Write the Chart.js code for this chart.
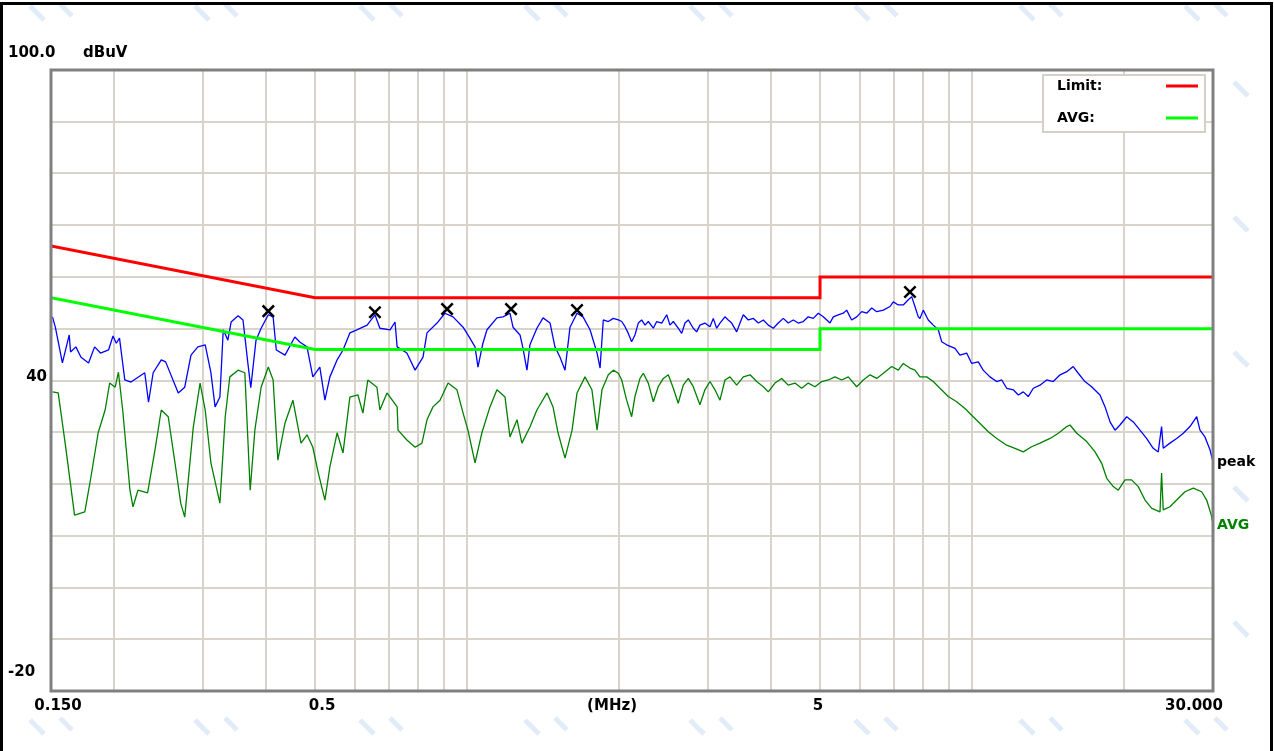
<!DOCTYPE html>
<html>
<head>
<meta charset="utf-8">
<title>Conducted emission 0.15 - 30 MHz</title>
<script src="https://cdn.jsdelivr.net/npm/chart.js@4.4.1/dist/chart.umd.min.js"></script>
<style>
  html, body { margin: 0; padding: 0; background: #fff; overflow: hidden; }
  canvas { display: block; }
</style>
</head>
<body>
<canvas id="emiChart" width="1274" height="751"></canvas>
<script>
// vertical grid lines (MHz)
const GRID_FREQ = [0.15, 0.2, 0.3, 0.4, 0.5, 0.6, 0.7, 0.8, 0.9, 1, 2, 3, 4, 5, 6, 7, 8, 9, 10, 20, 30];

// axis texts
const X_LABEL_FREQ = [0.15, 0.5, 2, 5, 30];
const X_LABEL_TEXT = ['0.150', '0.5', '(MHz)', '5', '30.000'];
const Y_LABEL_LEVEL = [100, 40, -20];
const Y_LABEL_TEXT = ['100.0', '40', '-20'];
const Y_UNIT = 'dBuV';

// limit lines
const LIMIT_FREQ = [0.15, 0.5, 5, 5, 30];
const QP_LIMIT = [66, 56, 56, 60, 60];
const AVG_LIMIT = [56, 46, 46, 50, 50];

// peak trace
const PEAK_FREQ = [0.151,0.153,0.158,0.163,0.164,0.168,0.172,0.178,0.183,0.188,
  0.195,0.199,0.202,0.205,0.210,0.216,0.230,0.234,0.239,0.248,
  0.253,0.268,0.276,0.284,0.293,0.303,0.311,0.317,0.324,0.329,
  0.336,0.341,0.352,0.360,0.368,0.373,0.382,0.391,0.404,0.413,
  0.419,0.436,0.456,0.467,0.482,0.495,0.511,0.523,0.535,0.553,
  0.568,0.586,0.605,0.634,0.657,0.672,0.704,0.720,0.727,0.760,
  0.789,0.818,0.833,0.872,0.904,0.938,0.982,1.013,1.037,1.051,
  1.075,1.095,1.146,1.178,1.216,1.233,1.273,1.290,1.314,1.332,
  1.375,1.414,1.460,1.493,1.528,1.563,1.599,1.651,1.697,1.752,
  1.809,1.834,
  1.861,1.904,1.948,1.993,2.024,2.055,2.086,2.118,2.150,2.183,
  2.217,2.251,2.285,2.338,2.374,2.429,2.485,2.522,2.561,2.619,
  2.661,2.701,2.742,2.805,2.849,2.891,2.958,3.027,3.073,3.121,
  3.168,3.241,3.290,3.342,3.419,3.471,3.524,3.605,3.689,3.774,
  3.861,3.949,4.040,4.133,4.228,4.325,4.425,4.527,4.632,4.738,
  4.848,4.960,5.074,5.232,5.311,5.433,5.559,5.645,5.775,5.909,
  6.045,6.185,6.329,6.474,6.674,6.880,6.982,7.143,7.308,7.477,
  7.593,7.708,7.825,7.885,8.006,8.190,8.379,8.573,8.706,8.906,
  9.251,9.463,9.757,9.982,10.29,10.52,10.85,11.19,11.45,11.71,
  12.07,12.35,12.63,12.92,13.22,13.63,14.05,14.48,14.94,15.40,
  15.86,16.23,16.73,17.25,17.92,18.34,18.76,19.19,19.63,20.24,
  20.86,21.50,22.16,22.84,23.37,23.73,23.91,24.65,25.42,26.20,
  27.01,27.85,28.27,28.92,29.59,30.0];
const PEAK_LEVEL = [52.3,50.3,43.4,48.8,45.5,46.5,44.5,43.4,46.5,45.3,
  45.9,48.6,47.2,48.2,40.1,39.7,41.5,35.8,41.5,44.0,
  43.6,37.6,38.7,44.9,46.5,46.9,41.5,34.9,36.8,49.8,
  47.8,51.3,52.5,51.7,43.4,38.6,47.8,50.1,52.7,52.3,
  45.9,44.9,48.4,47.4,46.5,40.7,42.6,36.2,40.7,44.0,
  45.9,49.2,49.8,50.7,52.7,50.1,49.8,51.3,46.5,45.3,
  42.0,44.5,49.2,51.1,53.0,52.3,50.3,48.2,46.5,42.6,
  47.2,49.8,52.1,52.3,53.0,50.3,48.8,46.3,42.0,46.9,
  50.1,52.1,51.1,46.5,44.5,42.0,50.3,53.0,52.3,49.8,
  45.3,42.4,
  51.7,51.4,52.0,51.7,51.4,50.4,49.1,47.5,48.8,51.1,
  51.7,50.7,51.4,50.1,51.4,51.1,52.7,50.7,51.4,50.1,
  49.1,51.1,51.7,50.1,49.4,50.7,51.1,50.4,52.0,50.1,
  51.1,52.3,51.7,51.1,49.4,51.1,52.7,51.7,52.0,51.1,
  51.7,50.7,50.1,51.1,52.0,51.1,51.7,51.1,51.4,52.3,
  52.0,53.0,52.3,51.1,52.3,52.7,53.0,53.6,51.7,52.3,
  53.3,53.0,54.0,53.3,53.6,54.3,55.2,54.6,54.6,55.6,
  56.2,54.3,52.3,52.0,53.6,51.7,50.7,49.8,47.5,46.9,
  46.2,44.9,45.3,43.3,43.6,42.0,40.7,39.8,40.1,38.5,
  38.2,37.2,37.8,36.9,38.5,39.1,40.1,39.8,41.1,41.7,
  42.7,41.4,39.8,38.8,37.2,34.9,32.0,30.4,31.4,33.0,
  32.0,30.4,28.8,26.9,26.2,31.1,26.9,27.9,28.8,29.8,
  31.1,33.0,30.4,29.1,26.6,24.3];

// average trace
const AVG_FREQ = [0.151,0.155,0.160,0.167,0.175,0.180,0.186,0.192,0.196,0.201,
  0.204,0.208,0.215,0.218,0.223,0.233,0.241,0.248,0.256,0.264,
  0.271,0.276,0.287,0.296,0.303,0.311,0.324,0.332,0.339,0.352,
  0.363,0.372,0.380,0.391,0.404,0.413,0.422,0.436,0.452,0.469,
  0.482,0.495,0.507,0.523,0.535,0.553,0.568,0.586,0.608,0.622,
  0.636,0.663,0.672,0.694,0.727,0.730,0.760,0.789,0.814,0.833,
  0.856,0.884,0.917,0.955,0.982,1.004,1.037,1.070,1.110,1.146,
  1.189,1.216,1.256,1.284,1.332,1.375,1.440,1.480,1.514,1.563,
  1.614,1.651,1.712,1.767,1.809,1.850,
  1.904,1.948,1.993,2.024,2.070,2.118,2.150,2.200,2.234,2.285,
  2.338,2.391,2.447,2.503,2.561,2.619,2.680,2.742,2.805,2.891,
  2.958,3.027,3.097,3.168,3.241,3.316,3.419,3.524,3.634,3.745,
  3.861,3.949,4.071,4.198,4.325,4.460,4.598,4.738,4.886,5.038,
  5.192,5.352,5.518,5.687,5.909,6.089,6.280,6.474,6.674,6.931,
  7.143,7.308,7.534,7.708,7.885,8.130,8.379,8.638,8.972,9.322,
  9.681,9.982,10.37,10.77,11.19,11.71,12.16,12.63,13.12,13.63,
  14.27,14.82,15.40,15.63,16.12,16.87,17.52,18.06,18.48,19.04,
  19.48,20.09,20.70,21.34,22.00,22.69,23.56,23.73,23.91,24.65,
  25.42,26.40,27.42,28.49,29.15,29.82,30.0];
const AVG_LEVEL = [37.8,37.6,27.9,14.0,14.6,21.4,29.9,34.3,39.5,38.7,
  41.6,34.3,18.8,15.6,18.8,18.3,26.6,34.3,33.0,24.1,
  16.3,13.6,31.0,39.5,34.3,24.1,16.3,33.0,40.7,42.0,
  41.5,18.8,30.4,38.7,42.6,40.1,24.6,31.8,36.2,27.9,
  29.5,27.1,22.3,16.9,23.3,29.9,26.0,36.8,37.2,33.7,
  40.1,38.7,34.3,37.6,34.9,30.4,28.5,27.1,27.9,32.4,
  34.9,36.2,39.5,38.2,33.7,30.4,24.1,29.9,34.9,38.2,
  36.8,29.1,32.4,27.9,31.0,34.3,37.6,34.9,29.9,25.0,
  30.4,37.6,40.7,38.2,30.4,38.2,
  41.1,42.0,41.4,40.1,36.2,33.0,36.9,40.4,41.4,39.5,
  35.9,38.8,40.4,41.1,38.5,35.6,39.1,40.4,38.8,35.3,
  38.2,39.8,38.2,36.2,40.1,40.7,39.1,40.7,41.1,39.8,
  38.8,37.8,39.5,40.4,39.1,39.5,38.5,39.5,38.8,39.8,
  40.1,40.7,40.1,40.7,38.8,40.1,41.1,40.4,41.4,42.7,
  42.0,43.3,42.4,42.0,40.7,40.7,39.8,38.5,36.9,35.9,
  34.6,33.3,31.7,30.1,28.8,27.5,26.9,26.2,27.2,27.9,
  28.8,29.8,31.1,31.4,29.8,28.2,26.2,24.0,21.1,19.5,
  18.8,20.8,20.8,19.5,16.9,15.3,14.6,22.1,15.0,15.6,
  16.9,18.5,19.2,18.5,16.9,13.7,12.1];

// peak markers (x)
const MARK_FREQ = [0.404, 0.657, 0.913, 1.222, 1.651, 7.534];
const MARK_LEVEL = [53.4, 53.2, 53.8, 53.8, 53.6, 57.1];

const FONT = '"DejaVu Sans", Verdana, sans-serif';

function toPoints(xs, ys) {
    return xs.map((x, i) => ({ x: x, y: ys[i] }));
}

// frame, watermark, axis texts, legend box
const decorations = {
    id: 'decorations',
    beforeDraw(chart) {
        const ctx = chart.ctx;
        const a = chart.chartArea;
        ctx.save();
        ctx.fillStyle = '#ffffff';
        ctx.fillRect(0, 0, chart.width, chart.height);

        // faint watermark strokes
        ctx.strokeStyle = 'rgba(170, 200, 235, 0.35)';
        ctx.lineWidth = 5;
        for (let wx = 30; wx < chart.width; wx += 165) {
            for (const wy of [14, 728]) {
                ctx.beginPath();
                ctx.moveTo(wx, wy - 8);
                ctx.lineTo(wx + 14, wy + 6);
                ctx.moveTo(wx + 30, wy - 10);
                ctx.lineTo(wx + 42, wy + 2);
                ctx.stroke();
            }
        }
        for (let wy = 90; wy < chart.height - 40; wy += 135) {
            ctx.beginPath();
            ctx.moveTo(1234, wy - 8);
            ctx.lineTo(1248, wy + 6);
            ctx.stroke();
        }

        ctx.fillStyle = '#ffffff';
        ctx.fillRect(a.left, a.top, a.right - a.left, a.bottom - a.top);
        ctx.restore();
    },
    afterDraw(chart) {
        const ctx = chart.ctx;
        const a = chart.chartArea;
        const xs = chart.scales.x;
        const ys = chart.scales.y;
        ctx.save();

        // plot border
        ctx.strokeStyle = '#808080';
        ctx.lineWidth = 3;
        ctx.strokeRect(a.left, a.top, a.right - a.left, a.bottom - a.top);

        // outer black frame
        ctx.strokeStyle = '#000000';
        ctx.lineWidth = 3;
        ctx.strokeRect(1.5, 3.5, 1270, 800);

        ctx.fillStyle = '#000000';
        ctx.font = 'bold 15px ' + FONT;

        // y texts
        ctx.textBaseline = 'middle';
        ctx.textAlign = 'left';
        ctx.fillText(Y_LABEL_TEXT[0], 8, ys.getPixelForValue(Y_LABEL_LEVEL[0]) - 17);
        ctx.fillText(Y_UNIT, 83, ys.getPixelForValue(Y_LABEL_LEVEL[0]) - 17);
        ctx.textAlign = 'right';
        ctx.fillText(Y_LABEL_TEXT[1], a.left - 4, ys.getPixelForValue(Y_LABEL_LEVEL[1]) - 3);
        ctx.textAlign = 'left';
        ctx.fillText(Y_LABEL_TEXT[2], 8, ys.getPixelForValue(Y_LABEL_LEVEL[2]) - 19);

        // x texts
        const xShift = [7, 7, -7, -2, -19];
        ctx.textAlign = 'center';
        X_LABEL_FREQ.forEach((f, i) => {
            ctx.fillText(X_LABEL_TEXT[i], xs.getPixelForValue(f) + xShift[i], a.bottom + 15);
        });

        // trace end labels
        ctx.font = 'bold 14px ' + FONT;
        ctx.textAlign = 'left';
        ctx.fillStyle = '#000000';
        ctx.fillText('peak', a.right + 4, ys.getPixelForValue(PEAK_LEVEL[PEAK_LEVEL.length - 1]) + 1);
        ctx.fillStyle = '#008000';
        ctx.fillText('AVG', a.right + 4, ys.getPixelForValue(AVG_LEVEL[AVG_LEVEL.length - 1]));

        // legend box
        const bx = a.right - 170, by = a.top + 5;
        ctx.fillStyle = '#ffffff';
        ctx.fillRect(bx, by, 162, 57);
        ctx.strokeStyle = '#d4d0c8';
        ctx.lineWidth = 2;
        ctx.strokeRect(bx, by, 162, 57);
        ctx.fillStyle = '#000000';
        ctx.font = 'bold 14px ' + FONT;
        ctx.fillText('Limit:', bx + 14, by + 11);
        ctx.fillText('AVG:', bx + 14, by + 43);
        ctx.lineWidth = 3;
        ctx.strokeStyle = '#ff0000';
        ctx.beginPath();
        ctx.moveTo(bx + 123, by + 11);
        ctx.lineTo(bx + 155, by + 11);
        ctx.stroke();
        ctx.strokeStyle = '#00ff00';
        ctx.beginPath();
        ctx.moveTo(bx + 123, by + 43);
        ctx.lineTo(bx + 155, by + 43);
        ctx.stroke();

        ctx.restore();
    }
};

const gridStyle = { color: '#d8d4cc', lineWidth: 2, drawTicks: false };

const config = {
    type: 'line',
    data: {
        datasets: [
            {
                label: 'marks',
                data: toPoints(MARK_FREQ, MARK_LEVEL),
                showLine: false,
                pointStyle: 'crossRot',
                pointRadius: 8,
                pointBorderWidth: 2.5,
                borderColor: '#000000',
                backgroundColor: '#000000'
            },
            {
                label: 'Limit',
                data: toPoints(LIMIT_FREQ, QP_LIMIT),
                borderColor: '#ff0000',
                borderWidth: 3,
                pointRadius: 0
            },
            {
                label: 'AVG limit',
                data: toPoints(LIMIT_FREQ, AVG_LIMIT),
                borderColor: '#00ff00',
                borderWidth: 3,
                pointRadius: 0
            },
            {
                label: 'peak',
                data: toPoints(PEAK_FREQ, PEAK_LEVEL),
                borderColor: '#0000ff',
                borderWidth: 1.3,
                borderJoinStyle: 'bevel',
                pointRadius: 0
            },
            {
                label: 'AVG',
                data: toPoints(AVG_FREQ, AVG_LEVEL),
                borderColor: '#008000',
                borderWidth: 1.3,
                borderJoinStyle: 'bevel',
                pointRadius: 0
            }
        ]
    },
    options: {
        responsive: false,
        animation: false,
        devicePixelRatio: 1,
        layout: { padding: { left: 51, top: 70, right: 61, bottom: 60 } },
        elements: { line: { tension: 0 } },
        plugins: {
            legend: { display: false },
            tooltip: { enabled: false }
        },
        scales: {
            x: {
                type: 'logarithmic',
                min: 0.15,
                max: 30,
                afterBuildTicks: (scale) => {
                    scale.ticks = GRID_FREQ.map(v => ({ value: v }));
                },
                ticks: { display: false },
                grid: gridStyle,
                border: { display: false }
            },
            y: {
                type: 'linear',
                min: -20,
                max: 100,
                ticks: { display: false, stepSize: 10 },
                grid: gridStyle,
                border: { display: false }
            }
        }
    },
    plugins: [decorations]
};

var chart = new Chart(document.getElementById('emiChart'), config);
</script>
</body>
</html>
